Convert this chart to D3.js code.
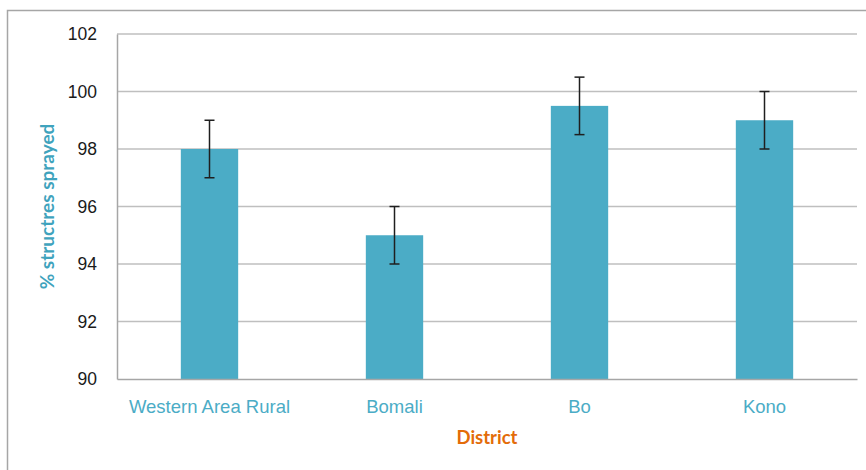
<!DOCTYPE html>
<html>
<head>
<meta charset="utf-8">
<script src="https://cdn.jsdelivr.net/npm/d3@7"></script>
<style>
    body { margin: 0; background: #fff; }
    svg { display: block; font-family: Lato, "Open Sans", sans-serif; }
</style>
</head>
<body>
<div id="chart"></div>
<script>
const districts = ["Western Area Rural", "Bomali", "Bo", "Kono"];
const sprayed = [98, 95, 99.5, 99];
const errors = [1, 1, 1, 1];
const yTicks = [90, 92, 94, 96, 98, 100, 102];

const W = 866, H = 470;
let margin = {top: 34, right: 9, bottom: 91, left: 117},
    width = W - margin.left - margin.right,
    height = H - margin.top - margin.bottom;

let root = d3.select("#chart").append("svg")
    .attr("width", W)
    .attr("height", H);

// outer chart frame (runs off the right and bottom edges)
root.append("rect")
    .attr("x", 7.5).attr("y", 10.5)
    .attr("width", 900).attr("height", 500)
    .attr("fill", "none")
    .attr("stroke", "#a6a6a6")
    .attr("stroke-width", 1.5);

let svg = root.append("g")
    .attr("transform", "translate(" + margin.left + "," + margin.top + ")");

let x = d3.scaleBand()
    .domain(districts)
    .range([0, width])
    .paddingInner(0.69)
    .paddingOuter(0.345);

let y = d3.scaleLinear()
    .domain([90, 102])
    .range([height, 0]);

// gridlines
svg.append("g")
    .selectAll("line")
    .data(yTicks.filter(d => d > 90))
    .enter()
    .append("line")
    .attr("x1", 0).attr("x2", width)
    .attr("y1", d => y(d)).attr("y2", d => y(d))
    .attr("stroke", "#bfbfbf")
    .attr("stroke-width", 1.3);

// y axis
let yAxis = svg.append("g")
    .call(d3.axisLeft(y).tickValues(yTicks).tickSize(0).tickPadding(20));
yAxis.select(".domain").attr("stroke", "#a6a6a6").attr("stroke-width", 1.5);
yAxis.selectAll("text")
    .attr("fill", "#1a1a1a")
    .style("font-size", "17.5px");

// bars
svg.selectAll("rect.bar")
    .data(sprayed)
    .enter()
    .append("rect")
    .attr("class", "bar")
    .attr("x", (d, i) => x(districts[i]))
    .attr("y", d => y(d))
    .attr("width", x.bandwidth())
    .attr("height", d => y(90) - y(d))
    .attr("fill", "#4bacc6");

// error bars
let eb = svg.append("g")
    .attr("stroke", "#1f1f1f")
    .attr("stroke-width", 1.5);
sprayed.forEach((d, i) => {
    let cx = x(districts[i]) + x.bandwidth() / 2;
    let top = y(d + errors[i]), bot = y(d - errors[i]);
    eb.append("line").attr("x1", cx).attr("x2", cx).attr("y1", top).attr("y2", bot);
    eb.append("line").attr("x1", cx - 5).attr("x2", cx + 5).attr("y1", top).attr("y2", top);
    eb.append("line").attr("x1", cx - 5).attr("x2", cx + 5).attr("y1", bot).attr("y2", bot);
});

// x axis
let xAxis = svg.append("g")
    .attr("transform", "translate(0," + height + ")")
    .call(d3.axisBottom(x).tickSize(0).tickPadding(21));
xAxis.select(".domain").attr("stroke", "#a6a6a6").attr("stroke-width", 1.5);
xAxis.selectAll("text")
    .attr("fill", "#4bacc6")
    .style("font-size", "18.5px");

// axis titles
svg.append("text")
    .attr("x", width / 2)
    .attr("y", height + 65)
    .attr("text-anchor", "middle")
    .attr("fill", "#e36c09")
    .style("font-size", "18.5px")
    .style("font-weight", "bold")
    .text("District");

svg.append("text")
    .attr("transform", "translate(" + (-63) + "," + (height / 2) + ") rotate(-90)")
    .attr("text-anchor", "middle")
    .attr("fill", "#3fa3bd")
    .style("font-size", "19px")
    .style("font-weight", "bold")
    .text("% structres sprayed");
</script>
</body>
</html>
